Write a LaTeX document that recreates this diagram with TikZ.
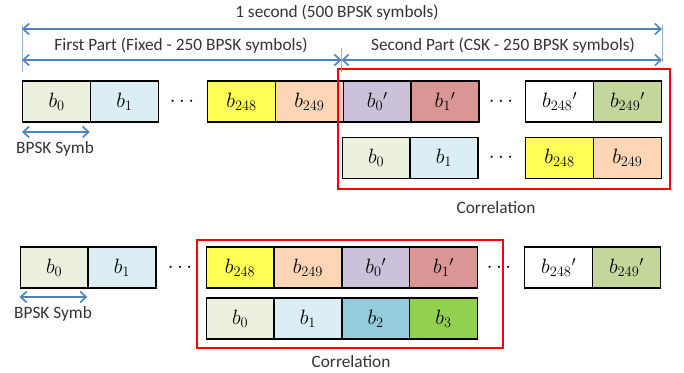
\documentclass[tikz,border=0pt]{standalone}
\usepackage{fontspec}
\setmainfont{Carlito}
\usetikzlibrary{arrows.meta}
\definecolor{cA}{HTML}{EBF1DE}
\definecolor{cB}{HTML}{DBEEF4}
\definecolor{cC}{HTML}{FFFF55}
\definecolor{cD}{HTML}{FCD5B5}
\definecolor{cE}{HTML}{CCC1DA}
\definecolor{cF}{HTML}{D99694}
\definecolor{cG}{HTML}{C3D69B}
\definecolor{cH}{HTML}{93CDDD}
\definecolor{cI}{HTML}{92D050}
\definecolor{arrblue}{HTML}{4F81BD}
\definecolor{tickblue}{HTML}{95B3D7}
\definecolor{redbox}{HTML}{FF0000}
\tikzset{
  cell/.style={draw=black, line width=1.4pt, minimum width=67.8pt, minimum height=41pt, inner sep=0pt, anchor=west, font=\fontsize{21}{25}\selectfont},
  lbl/.style={font=\fontsize{17.3}{21}\selectfont, text=black!80, inner sep=0pt},
  dotsnode/.style={font=\fontsize{22}{26}\selectfont, inner sep=0pt},
  dimarrow/.style={draw=arrblue, line width=1.6pt, {Straight Barb[length=6pt,width=11pt,line width=1.6pt]}-{Straight Barb[length=6pt,width=11pt,line width=1.6pt]}},
  tick/.style={draw=tickblue, line width=0.8pt},
  corrbox/.style={draw=redbox, line width=1.5pt}
}
\begin{document}
\begin{tikzpicture}[x=1pt,y=-1pt]
\useasboundingbox (0,0) rectangle (684,372);
% ---------- Top: row 1 ----------
\node[cell, fill=cA] (r1a) at (22,101.5) {$b_0$};
\node[cell, fill=cB] (r1b) at (89.8,101.5) {$b_1$};
\node[dotsnode] (r1d1) at (182,101.5) {$\cdots$};
\node[cell, fill=cC] (r1c) at (207,101.5) {$b_{248}$};
\node[cell, fill=cD] (r1e) at (274.8,101.5) {$b_{249}$};
\node[cell, fill=cE] (r1f) at (342.6,101.5) {$b_0{}'$};
\node[cell, fill=cF] (r1g) at (410.4,101.5) {$b_1{}'$};
\node[dotsnode] (r1d2) at (501,101.5) {$\cdots$};
\node[cell, fill=white] (r1h) at (525,101.5) {$b_{248}{}'$};
\node[cell, fill=cG] (r1i) at (592.8,101.5) {$b_{249}{}'$};
% ---------- Top: row 2 ----------
\node[cell, fill=cA] (r2a) at (341.5,158) {$b_0$};
\node[cell, fill=cB] (r2b) at (409.3,158) {$b_1$};
\node[dotsnode] (r2d) at (501,158) {$\cdots$};
\node[cell, fill=cC] (r2c) at (525,158) {$b_{248}$};
\node[cell, fill=cD] (r2e) at (592.8,158) {$b_{249}$};
% red box top
\node[corrbox, minimum width=332pt, minimum height=120pt, anchor=north west, inner sep=0pt] (rb1) at (337,68) {};
\node[lbl] (corr1) at (496,208) {Correlation};
% dimension lines
\coordinate (v1t) at (22,25); \coordinate (v1b) at (22,72);
\coordinate (v2t) at (662,25); \coordinate (v2b) at (662,62);
\coordinate (v3t) at (341.5,48); \coordinate (v3b) at (341.5,72);
\draw[tick] (v1t) -- (v1b);
\draw[tick] (v2t) -- (v2b);
\draw[tick] (v3t) -- (v3b);
\coordinate (a1l) at (22,29); \coordinate (a1r) at (662,29);
\coordinate (a2l) at (22,60); \coordinate (a2r) at (341.5,60);
\coordinate (a3l) at (341.5,60); \coordinate (a3r) at (662,60);
\draw[dimarrow] (a1l) -- (a1r);
\draw[dimarrow] (a2l) -- (a2r);
\draw[dimarrow] (a3l) -- (a3r);
\node[lbl] (t1) at (337,13) {1 second (500 BPSK symbols)};
\node[lbl] (t2) at (181,46) {First Part (Fixed - 250 BPSK symbols)};
\node[lbl] (t3) at (503,46) {Second Part (CSK - 250 BPSK symbols)};
% BPSK symb top
\coordinate (s1l) at (22,132); \coordinate (s1r) at (89.8,132);
\draw[dimarrow] (s1l) -- (s1r);
\node[lbl] (bpsk1) at (55,149) {BPSK Symb};
% ---------- Bottom: row 3 ----------
\node[cell, fill=cA] (r3a) at (19.5,267.5) {$b_0$};
\node[cell, fill=cB] (r3b) at (87.3,267.5) {$b_1$};
\node[dotsnode] (r3d1) at (180,267.5) {$\cdots$};
\node[cell, fill=cC] (r3c) at (205.5,267.5) {$b_{248}$};
\node[cell, fill=cD] (r3e) at (273.3,267.5) {$b_{249}$};
\node[cell, fill=cE] (r3f) at (341.1,267.5) {$b_0{}'$};
\node[cell, fill=cF] (r3g) at (408.9,267.5) {$b_1{}'$};
\node[dotsnode] (r3d2) at (499,267.5) {$\cdots$};
\node[cell, fill=white] (r3h) at (524,267.5) {$b_{248}{}'$};
\node[cell, fill=cG] (r3i) at (591.8,267.5) {$b_{249}{}'$};
% ---------- Bottom: row 4 ----------
\node[cell, fill=cA] (r4a) at (205.5,318.5) {$b_0$};
\node[cell, fill=cB] (r4b) at (273.3,318.5) {$b_1$};
\node[cell, fill=cH] (r4c) at (341.1,318.5) {$b_2$};
\node[cell, fill=cI] (r4d) at (408.9,318.5) {$b_3$};
\node[corrbox, minimum width=306pt, minimum height=108pt, anchor=north west, inner sep=0pt] (rb2) at (196,239) {};
\node[lbl] (corr2) at (351,362) {Correlation};
\coordinate (s2l) at (19.5,297); \coordinate (s2r) at (87.3,297);
\draw[dimarrow] (s2l) -- (s2r);
\node[lbl] (bpsk2) at (53,314) {BPSK Symb};
\end{tikzpicture}
\end{document}
